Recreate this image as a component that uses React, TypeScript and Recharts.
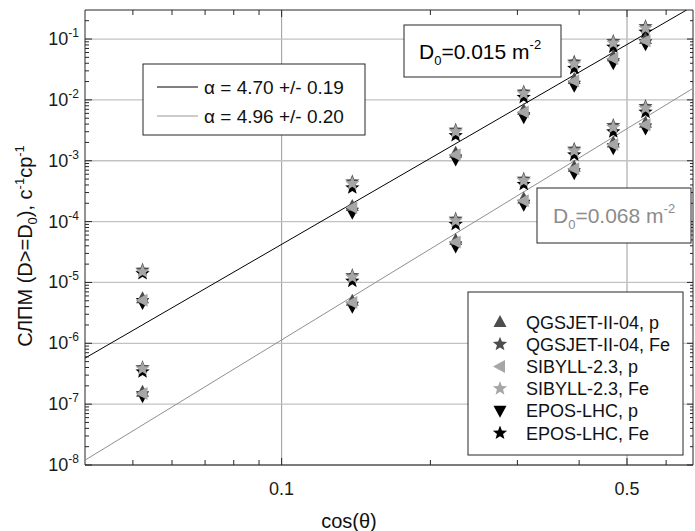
import React from 'react';
import { ScatterChart, Scatter, XAxis, YAxis, CartesianGrid } from 'recharts';

// ---------- data ----------
const cosTheta = [0.0523, 0.139, 0.225, 0.309, 0.391, 0.469, 0.545];

// D0 = 0.015 m^-2
const qgsP015 = [5.5e-6, 1.8e-4, 1.35e-3, 6.8e-3, 2.2e-2, 5.2e-2, 0.1];
const qgsFe015 = [1.6e-5, 4.5e-4, 3.2e-3, 1.35e-2, 4.2e-2, 9.2e-2, 0.16];
const sibP015 = [5.1e-6, 1.7e-4, 1.25e-3, 6.3e-3, 2.05e-2, 4.8e-2, 0.094];
const sibFe015 = [1.5e-5, 4.2e-4, 3.0e-3, 1.27e-2, 3.9e-2, 8.6e-2, 0.15];
const eposP015 = [4.6e-6, 1.4e-4, 1.05e-3, 5.2e-3, 1.7e-2, 4.0e-2, 0.082];
const eposFe015 = [1.4e-5, 3.6e-4, 2.6e-3, 1.1e-2, 3.3e-2, 7.4e-2, 0.13];

// D0 = 0.068 m^-2
const qgsP068 = [1.6e-7, 5.0e-6, 5.0e-5, 2.4e-4, 8.0e-4, 2.0e-3, 4.2e-3];
const qgsFe068 = [4.0e-7, 1.3e-5, 1.1e-4, 5.0e-4, 1.55e-3, 3.8e-3, 7.8e-3];
const sibP068 = [1.5e-7, 4.7e-6, 4.6e-5, 2.2e-4, 7.4e-4, 1.85e-3, 3.9e-3];
const sibFe068 = [3.8e-7, 1.22e-5, 1.03e-4, 4.7e-4, 1.45e-3, 3.55e-3, 7.3e-3];
const eposP068 = [1.35e-7, 4.0e-6, 3.9e-5, 1.9e-4, 6.2e-4, 1.6e-3, 3.4e-3];
const eposFe068 = [3.4e-7, 1.05e-5, 9.0e-5, 4.1e-4, 1.25e-3, 3.0e-3, 6.3e-3];

// fitted power laws (end points)
const fitX = [0.04, 0.66];
const fitY015 = [5.7e-7, 0.3];
const fitX2 = [0.04, 0.68];
const fitY068 = [1.2e-8, 0.0155];

const xDomain = [0.04, 0.68];
const yDomain = [1e-8, 0.3];
const xTicks = [0.05, 0.06, 0.07, 0.08, 0.09, 0.1, 0.2, 0.3, 0.4, 0.5, 0.6];
const xLabeled = [0.1, 0.5];
const yDecades = [1e-8, 1e-7, 1e-6, 1e-5, 1e-4, 1e-3, 1e-2, 1e-1];
const yMinorMult = [2, 3, 4, 5, 6, 7, 8, 9];
const yTicks = yDecades
  .flatMap((d) => [d, ...yMinorMult.map((m) => Number((m * d).toPrecision(3)))])
  .filter((v) => v < 0.29);

const legendNames = [
  'QGSJET-II-04, p',
  'QGSJET-II-04, Fe',
  'SIBYLL-2.3, p',
  'SIBYLL-2.3, Fe',
  'EPOS-LHC, p',
  'EPOS-LHC, Fe',
];

const toPts = (ys: number[]) => cosTheta.map((x, i) => ({ x, y: ys[i] }));
const fitPts = (xs: number[], ys: number[]) => xs.map((x, i) => ({ x, y: ys[i] }));

// ---------- styles ----------
const FONT = 'Liberation Sans, Arial, Helvetica, sans-serif';
const C_Q = '#4d4d4d';
const C_S = '#a6a6a6';
const C_E = '#000000';
const AX = '#262626';

// ---------- marker shapes ----------
const starPoints = (cx: number, cy: number, R: number, r: number) => {
  const pts: string[] = [];
  for (let k = 0; k < 10; k++) {
    const rad = k % 2 === 0 ? R : r;
    const a = -Math.PI / 2 + (k * Math.PI) / 5;
    pts.push(`${cx + rad * Math.cos(a)},${cy + rad * Math.sin(a)}`);
  }
  return pts.join(' ');
};
const Star = ({ cx, cy, fill }: any) => <polygon points={starPoints(cx, cy, 7.5, 3.2)} fill={fill} />;
const TriUp = ({ cx, cy, fill }: any) => (
  <polygon points={`${cx},${cy - 7} ${cx + 6.5},${cy + 5} ${cx - 6.5},${cy + 5}`} fill={fill} />
);
const TriDown = ({ cx, cy, fill }: any) => (
  <polygon points={`${cx},${cy + 7} ${cx + 6.5},${cy - 5} ${cx - 6.5},${cy - 5}`} fill={fill} />
);
const TriLeft = ({ cx, cy, fill }: any) => (
  <polygon points={`${cx - 7},${cy} ${cx + 5},${cy - 6.5} ${cx + 5},${cy + 6.5}`} fill={fill} />
);

const mk = (Comp: any, fill: string) => (p: any) => <Comp cx={p.cx} cy={p.cy} fill={fill} />;
const noShape = () => <g />;

// ---------- ticks ----------
const isDecade = (v: number) => Math.abs(Math.log10(v) - Math.round(Math.log10(v))) < 1e-6;

const LeftTick = (props: any) => {
  const { x, y, payload } = props;
  const v = payload.value;
  const major = isDecade(v);
  const e = Math.round(Math.log10(v));
  return (
    <g>
      <line x1={x} x2={x + (major ? 7 : 4)} y1={y} y2={y} stroke={AX} strokeWidth={1} />
      {major && (
        <text x={x - 6} y={y + 6} textAnchor="end" fontSize={18} fill="#1a1a1a" fontFamily={FONT}>
          10
          <tspan dy={-8} fontSize={12}>{`-${Math.abs(e)}`}</tspan>
        </text>
      )}
    </g>
  );
};
const RightTick = (props: any) => {
  const { x, y, payload } = props;
  const major = isDecade(payload.value);
  return <line x1={x} x2={x - (major ? 6 : 3)} y1={y} y2={y} stroke={AX} strokeWidth={1} />;
};
const BottomTick = (props: any) => {
  const { x, y, payload } = props;
  const v = payload.value;
  const lab = xLabeled.includes(v);
  return (
    <g>
      <line x1={x} x2={x} y1={y} y2={y - (lab ? 7 : 5)} stroke={AX} strokeWidth={1} />
      {lab && (
        <text x={x} y={y + 30} textAnchor="middle" fontSize={18} fill="#1a1a1a" fontFamily={FONT}>
          {String(v)}
        </text>
      )}
    </g>
  );
};
const TopTick = (props: any) => {
  const { x, y, payload } = props;
  const lab = xLabeled.includes(payload.value);
  return <line x1={x} x2={x} y1={y} y2={y + (lab ? 7 : 5)} stroke={AX} strokeWidth={1} />;
};

// ---------- overlay (annotations, legends, axis titles) ----------
const Overlay = () => {
  const rows: { shape: any; fill: string }[] = [
    { shape: TriUp, fill: C_Q },
    { shape: Star, fill: C_Q },
    { shape: TriLeft, fill: C_S },
    { shape: Star, fill: C_S },
    { shape: TriDown, fill: C_E },
    { shape: Star, fill: C_E },
  ];
  return (
    <svg
      width={695}
      height={531}
      style={{ position: 'absolute', left: 0, top: 0, pointerEvents: 'none' }}
      fontFamily={FONT}
    >
      {/* fit legend */}
      <rect x={143} y={64} width={222} height={71} fill="#fff" stroke={AX} strokeWidth={1} />
      <line x1={157} x2={198} y1={87} y2={87} stroke="#000" strokeWidth={1} />
      <text x={204} y={94} fontSize={19} fill="#111">α = 4.70 +/- 0.19</text>
      <line x1={157} x2={198} y1={116} y2={116} stroke="#999" strokeWidth={1} />
      <text x={204} y={123} fontSize={19} fill="#111">α = 4.96 +/- 0.20</text>

      {/* D0 = 0.015 */}
      <rect x={404} y={25} width={157} height={52} fill="#fff" stroke={AX} strokeWidth={1} />
      <text x={419} y={59} fontSize={21} fill="#000">
        D<tspan dy={6} fontSize={13}>0</tspan>
        <tspan dy={-6}>=0.015 m</tspan>
        <tspan dy={-10} fontSize={13}>-2</tspan>
      </text>

      {/* D0 = 0.068 */}
      <rect x={537} y={188} width={154} height={55} fill="#fff" stroke={AX} strokeWidth={1} />
      <text x={553} y={223} fontSize={21} fill="#8c8c8c">
        D<tspan dy={6} fontSize={13}>0</tspan>
        <tspan dy={-6}>=0.068 m</tspan>
        <tspan dy={-10} fontSize={13}>-2</tspan>
      </text>

      {/* marker legend */}
      <rect x={468} y={292} width={215} height={163} fill="#fff" stroke={AX} strokeWidth={1} />
      {legendNames.map((name, i) => {
        const cy = 322 + i * 22.2;
        const S = rows[i].shape;
        return (
          <g key={name}>
            <S cx={500} cy={cy} fill={rows[i].fill} />
            <text x={526} y={cy + 6.5} fontSize={18} fill="#111">
              {name}
            </text>
          </g>
        );
      })}

      {/* axis titles */}
      <text x={349} y={528} textAnchor="middle" fontSize={20} fill="#111">
        cos(θ)
      </text>
      <text
        x={0}
        y={0}
        transform="translate(32 246) rotate(-90)"
        textAnchor="middle"
        fontSize={20}
        fill="#111"
      >
        СЛПМ (D&gt;=D<tspan dy={5} fontSize={13}>0</tspan>
        <tspan dy={-5}>), с</tspan>
        <tspan dy={-8} fontSize={13}>-1</tspan>
        <tspan dy={8}>ср</tspan>
        <tspan dy={-8} fontSize={13}>-1</tspan>
      </text>
    </svg>
  );
};

export default function App() {
  return (
    <div style={{ position: 'absolute', left: 0, top: 0, width: 695, height: 531, background: '#fff' }}>
      <ScatterChart width={695} height={531} margin={{ top: 0, right: 0, bottom: 0, left: 0 }}>
        <CartesianGrid
          horizontal={false}
          vertical={true}
          verticalValues={xLabeled}
          stroke="#9a9a9a"
          strokeWidth={1}
        />
        <CartesianGrid
          horizontal={true}
          vertical={false}
          horizontalValues={yDecades}
          stroke="#c2c2c2"
          strokeWidth={1.3}
        />
        <XAxis
          dataKey="x"
          type="number"
          scale="log"
          domain={xDomain}
          allowDataOverflow
          ticks={xTicks}
          interval={0}
          tickSize={0}
          tickMargin={0}
          tickLine={false}
          height={66}
          stroke={AX}
          tick={<BottomTick />}
        />
        <XAxis
          xAxisId="top"
          orientation="top"
          dataKey="x"
          type="number"
          scale="log"
          domain={xDomain}
          allowDataOverflow
          ticks={xTicks}
          interval={0}
          tickSize={0}
          tickMargin={0}
          tickLine={false}
          height={10}
          stroke={AX}
          tick={<TopTick />}
        />
        <YAxis
          dataKey="y"
          type="number"
          scale="log"
          domain={yDomain}
          allowDataOverflow
          ticks={yTicks}
          interval={0}
          tickSize={0}
          tickMargin={0}
          tickLine={false}
          width={85}
          stroke={AX}
          tick={<LeftTick />}
        />
        <YAxis
          yAxisId="right"
          orientation="right"
          dataKey="y"
          type="number"
          scale="log"
          domain={yDomain}
          allowDataOverflow
          ticks={yTicks}
          interval={0}
          tickSize={0}
          tickMargin={0}
          tickLine={false}
          width={2}
          stroke={AX}
          tick={<RightTick />}
        />

        <Scatter data={fitPts(fitX, fitY015)} line={{ stroke: '#000', strokeWidth: 1 }} shape={noShape} isAnimationActive={false} />
        <Scatter data={fitPts(fitX2, fitY068)} line={{ stroke: '#8f8f8f', strokeWidth: 1 }} shape={noShape} isAnimationActive={false} />

        <Scatter name="EPOS-LHC, p 0.015" data={toPts(eposP015)} shape={mk(TriDown, C_E)} isAnimationActive={false} />
        <Scatter name="EPOS-LHC, Fe 0.015" data={toPts(eposFe015)} shape={mk(Star, C_E)} isAnimationActive={false} />
        <Scatter name="EPOS-LHC, p 0.068" data={toPts(eposP068)} shape={mk(TriDown, C_E)} isAnimationActive={false} />
        <Scatter name="EPOS-LHC, Fe 0.068" data={toPts(eposFe068)} shape={mk(Star, C_E)} isAnimationActive={false} />

        <Scatter name="QGSJET-II-04, p 0.015" data={toPts(qgsP015)} shape={mk(TriUp, C_Q)} isAnimationActive={false} />
        <Scatter name="QGSJET-II-04, Fe 0.015" data={toPts(qgsFe015)} shape={mk(Star, C_Q)} isAnimationActive={false} />
        <Scatter name="QGSJET-II-04, p 0.068" data={toPts(qgsP068)} shape={mk(TriUp, C_Q)} isAnimationActive={false} />
        <Scatter name="QGSJET-II-04, Fe 0.068" data={toPts(qgsFe068)} shape={mk(Star, C_Q)} isAnimationActive={false} />

        <Scatter name="SIBYLL-2.3, p 0.015" data={toPts(sibP015)} shape={mk(TriLeft, C_S)} isAnimationActive={false} />
        <Scatter name="SIBYLL-2.3, Fe 0.015" data={toPts(sibFe015)} shape={mk(Star, C_S)} isAnimationActive={false} />
        <Scatter name="SIBYLL-2.3, p 0.068" data={toPts(sibP068)} shape={mk(TriLeft, C_S)} isAnimationActive={false} />
        <Scatter name="SIBYLL-2.3, Fe 0.068" data={toPts(sibFe068)} shape={mk(Star, C_S)} isAnimationActive={false} />
      </ScatterChart>
      <Overlay />
    </div>
  );
}
